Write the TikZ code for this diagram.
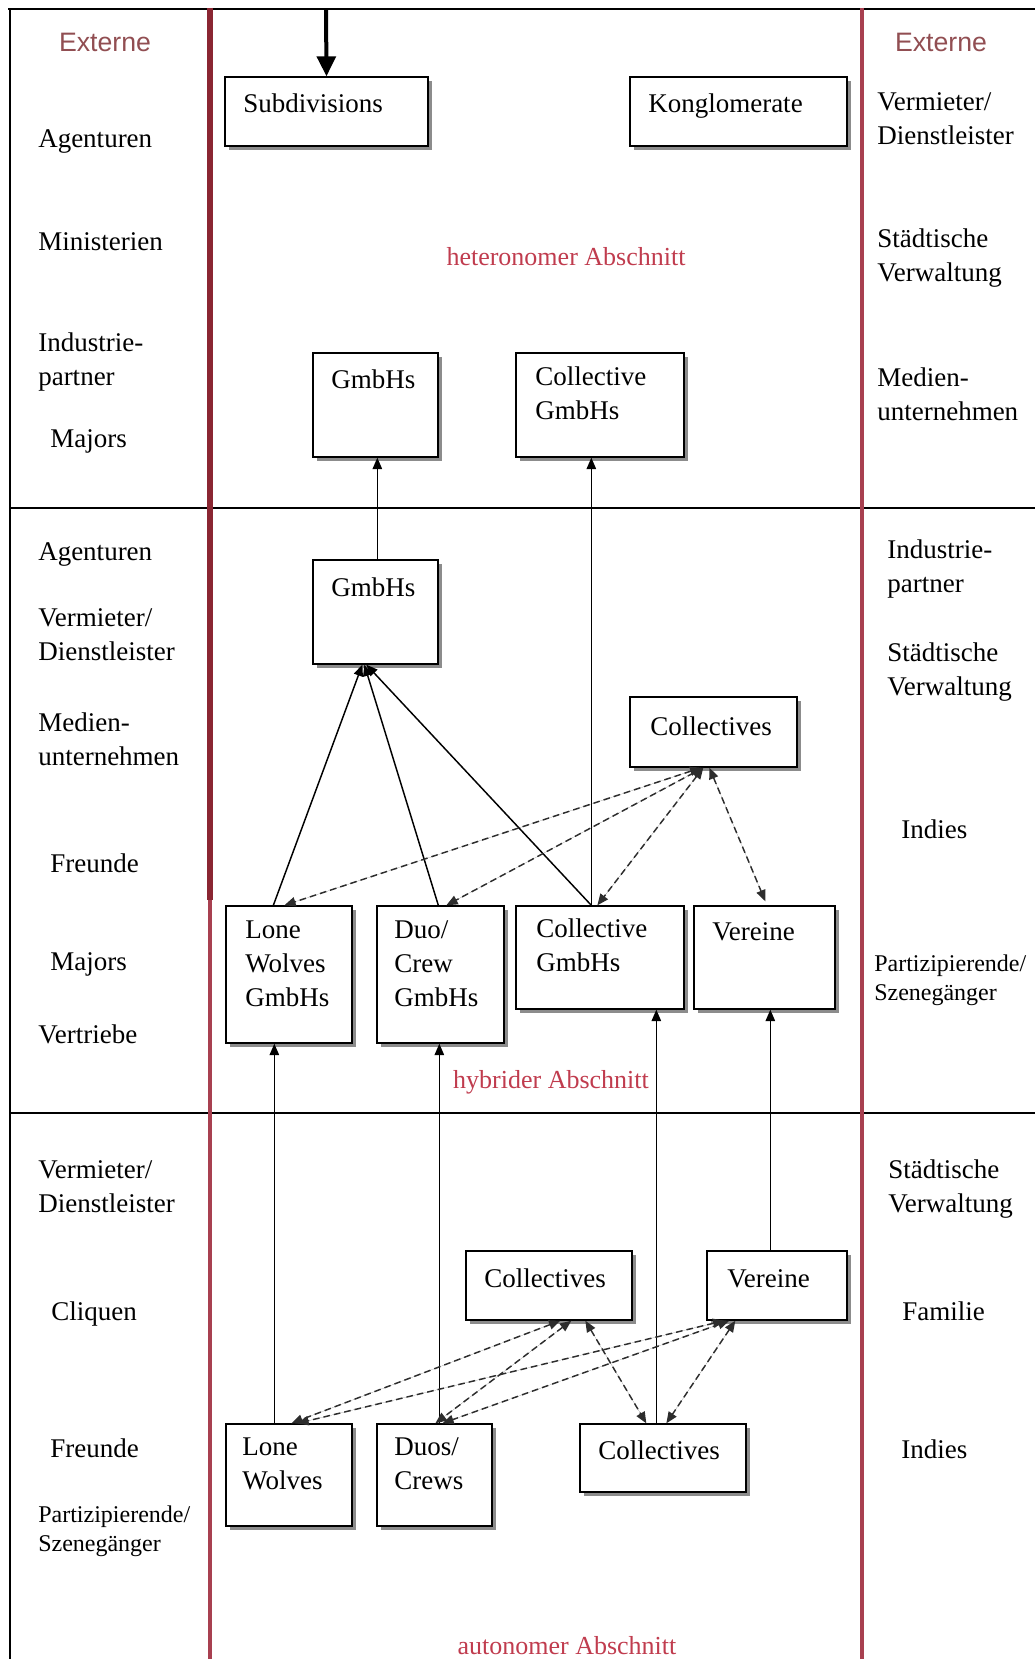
\documentclass[tikz,border=0pt]{standalone}
\usepackage{fontspec}
\setmainfont{Liberation Serif}
\setsansfont{Liberation Sans}
\usetikzlibrary{arrows.meta,calc,fit,shadows}

\definecolor{framered}{RGB}{168,64,80}
\definecolor{framereddark}{RGB}{138,38,50}
\definecolor{sectionred}{RGB}{192,60,78}
\definecolor{externred}{RGB}{145,78,82}
\definecolor{dashgray}{RGB}{45,45,45}

\begin{document}
\begin{tikzpicture}[x=0.75pt,y=-0.75pt,
  box/.style={draw=black, line width=1pt, fill=white, inner sep=0pt,
    drop shadow={shadow xshift=3pt, shadow yshift=-3pt, fill=black!45, opacity=1}},
  % multi-line labels are anchored at the baseline of their last line
  lbl/.style={anchor=base west, inner sep=0pt, align=left,
    font=\fontsize{20.25pt}{25.5pt}\selectfont},
  smalllbl/.style={lbl, font=\fontsize{18pt}{21.75pt}\selectfont},
  ext/.style={anchor=base, inner sep=0pt, text=externred,
    font=\sffamily\fontsize{20pt}{24pt}\selectfont},
  sect/.style={anchor=base, inner sep=0pt, text=sectionred,
    font=\fontsize{19.5pt}{24pt}\selectfont},
  up/.style={-{Triangle[length=8.5pt,width=7pt]}, line width=1.1pt},
  link/.style={{Triangle[length=8.5pt,width=7pt]}-{Triangle[length=8.5pt,width=7pt]},
    line width=1.1pt, dash pattern=on 5pt off 3pt, draw=dashgray, fill=dashgray},
  feed/.style={-{Triangle[length=15pt,width=14pt]}, line width=3pt},
  rule/.style={line width=1pt, draw=black},
  divider/.style={line width=3.6pt, draw=framered}]

\useasboundingbox (0,0) rectangle (1035,1659);

% frame and section rules
\draw[rule] (8,9) -- (1035,9);
\draw[rule] (10,9) -- (10,1659);
\draw[rule] (10,508) -- (1035,508);
\draw[rule] (10,1113) -- (1035,1113);
\draw[divider, draw=framereddark, line width=3.8pt] (210,8) -- (210,900);
\draw[divider] (210,900) -- (210,1659);
\draw[divider] (862,8) -- (862,1659);

% boxes
\node[box, fit={(225,77)(428,146)}] (sub) {};
\node[box, fit={(630,77)(847,146)}] (kong) {};
\node[box, fit={(313,353)(438,457)}] (gmbhT) {};
\node[box, fit={(516,353)(684,457)}] (cgmbhT) {};
\node[box, fit={(313,560)(438,664)}] (gmbhM) {};
\node[box, fit={(630,697)(797,767)}] (collM) {};
\node[box, fit={(226,906)(352,1043)}] (lwG) {};
\node[box, fit={(377,906)(504,1043)}] (dcG) {};
\node[box, fit={(516,906)(684,1009)}] (cgmbhM) {};
\node[box, fit={(694,906)(835,1009)}] (verM) {};
\node[box, fit={(466,1251)(632,1320)}] (collL) {};
\node[box, fit={(707,1251)(847,1320)}] (verL) {};
\node[box, fit={(226,1424)(352,1526)}] (lw) {};
\node[box, fit={(377,1424)(492,1526)}] (dc) {};
\node[box, fit={(580,1424)(746,1492)}] (collR) {};

% box texts
\node[lbl] (tsub) at (243,113) {Subdivisions};
\node[lbl] (tkong) at (648,113) {Konglomerate};
\node[lbl] (tgmbhT) at (331,388) {GmbHs};
\node[lbl] (tcgmbhT) at (535,419) {Collective\\GmbHs};
\node[lbl] (tgmbhM) at (331,596) {GmbHs};
\node[lbl] (tcollM) at (650,735) {Collectives};
\node[lbl] (tlwG) at (245,1006) {Lone\\Wolves\\GmbHs};
\node[lbl] (tdcG) at (394,1006) {Duo/\\Crew\\GmbHs};
\node[lbl] (tcgmbhM) at (536,971) {Collective\\GmbHs};
\node[lbl] (tverM) at (712,940) {Vereine};
\node[lbl] (tcollL) at (484,1287) {Collectives};
\node[lbl] (tverL) at (727,1287) {Vereine};
\node[lbl] (tlw) at (242,1489) {Lone\\Wolves};
\node[lbl] (tdc) at (394,1489) {Duos/\\Crews};
\node[lbl] (tcollR) at (598,1459) {Collectives};

% section titles
\node[sect] (hetero) at (566,265) {heteronomer Abschnitt};
\node[sect] (hybrid) at (551,1088) {hybrider Abschnitt};
\node[sect] (auto) at (567,1654) {autonomer Abschnitt};

% left column
\node[ext] (extL) at (105,52) {Externe};
\node[lbl] (l1) at (38,147) {Agenturen};
\node[lbl] (l2) at (38,250) {Ministerien};
\node[lbl] (l3) at (38,385) {Industrie-\\partner};
\node[lbl] (l4) at (50,447) {Majors};
\node[lbl] (l5) at (38,560) {Agenturen};
\node[lbl] (l6) at (38,660) {Vermieter/\\Dienstleister};
\node[lbl] (l7) at (38,765) {Medien-\\unternehmen};
\node[lbl] (l8) at (50,872) {Freunde};
\node[lbl] (l9) at (50,970) {Majors};
\node[lbl] (l10) at (38,1043) {Vertriebe};
\node[lbl] (l11) at (38,1212) {Vermieter/\\Dienstleister};
\node[lbl] (l12) at (51,1320) {Cliquen};
\node[lbl] (l13) at (50,1457) {Freunde};
\node[smalllbl] (l14) at (38,1551) {Partizipierende/\\Szenegänger};

% right column
\node[ext] (extR) at (941,52) {Externe};
\node[lbl] (r1) at (877,144) {Vermieter/\\Dienstleister};
\node[lbl] (r2) at (877,281) {Städtische\\Verwaltung};
\node[lbl] (r3) at (877,420) {Medien-\\unternehmen};
\node[lbl] (r4) at (887,592) {Industrie-\\partner};
\node[lbl] (r5) at (887,695) {Städtische\\Verwaltung};
\node[lbl] (r6) at (901,838) {Indies};
\node[smalllbl] (r7) at (874,1000) {Partizipierende/\\Szenegänger};
\node[lbl] (r8) at (888,1212) {Städtische\\Verwaltung};
\node[lbl] (r9) at (902,1320) {Familie};
\node[lbl] (r10) at (901,1458) {Indies};

% incoming feed
\coordinate (feedin) at (326,9);
\draw[feed] (feedin) -- (sub.north);

% upward links into the heteronomous section
\draw[up] ($(gmbhM.north west)+(65,0)$) -- ($(gmbhT.south west)+(65,0)$);
\draw[up] ($(cgmbhM.north west)+(76,0)$) -- ($(cgmbhT.south west)+(76,0)$);

% hybrid boxes feeding the GmbHs
\draw[up] ($(lwG.north west)+(48,0)$) -- ($(gmbhM.south west)+(50,0)$);
\draw[up] ($(dcG.north west)+(62,0)$) -- ($(gmbhM.south west)+(52,0)$);
\draw[up] ($(cgmbhM.north west)+(76,0)$) -- ($(gmbhM.south west)+(54,0)$);

% collectives exchange in the hybrid section
\draw[link] ($(collM.south west)+(72,0)$) -- ($(lwG.north west)+(59,0)$);
\draw[link] ($(collM.south west)+(74,0)$) -- ($(dcG.north west)+(70,0)$);
\draw[link] ($(collM.south west)+(74,0)$) -- ($(cgmbhM.north west)+(82,0)$);
\draw[link] ($(collM.south west)+(80,0)$) -- ($(verM.north west)+(72,-4)$);

% autonomous boxes rising into the hybrid section
\draw[up] ($(lw.north west)+(49,0)$) -- ($(lwG.south west)+(49,0)$);
\draw[up] ($(dc.north west)+(63,0)$) -- ($(dcG.south west)+(63,0)$);
\draw[up] ($(collR.north west)+(77,0)$) -- ($(cgmbhM.south west)+(141,0)$);
\draw[up] ($(verL.north west)+(64,0)$) -- ($(verM.south west)+(77,0)$);

% exchange in the autonomous section
\draw[link] ($(collL.south west)+(95,0)$) -- ($(lw.north west)+(66,0)$);
\draw[link] ($(collL.south west)+(106,0)$) -- ($(dc.north west)+(59,0)$);
\draw[link] ($(collL.south west)+(120,0)$) -- ($(collR.north west)+(67,0)$);
\draw[link] ($(verL.south west)+(18,0)$) -- ($(lw.north west)+(72,0)$);
\draw[link] ($(verL.south west)+(23,0)$) -- ($(dc.north west)+(66,0)$);
\draw[link] ($(verL.south west)+(29,0)$) -- ($(collR.north west)+(87,0)$);

\end{tikzpicture}
\end{document}
